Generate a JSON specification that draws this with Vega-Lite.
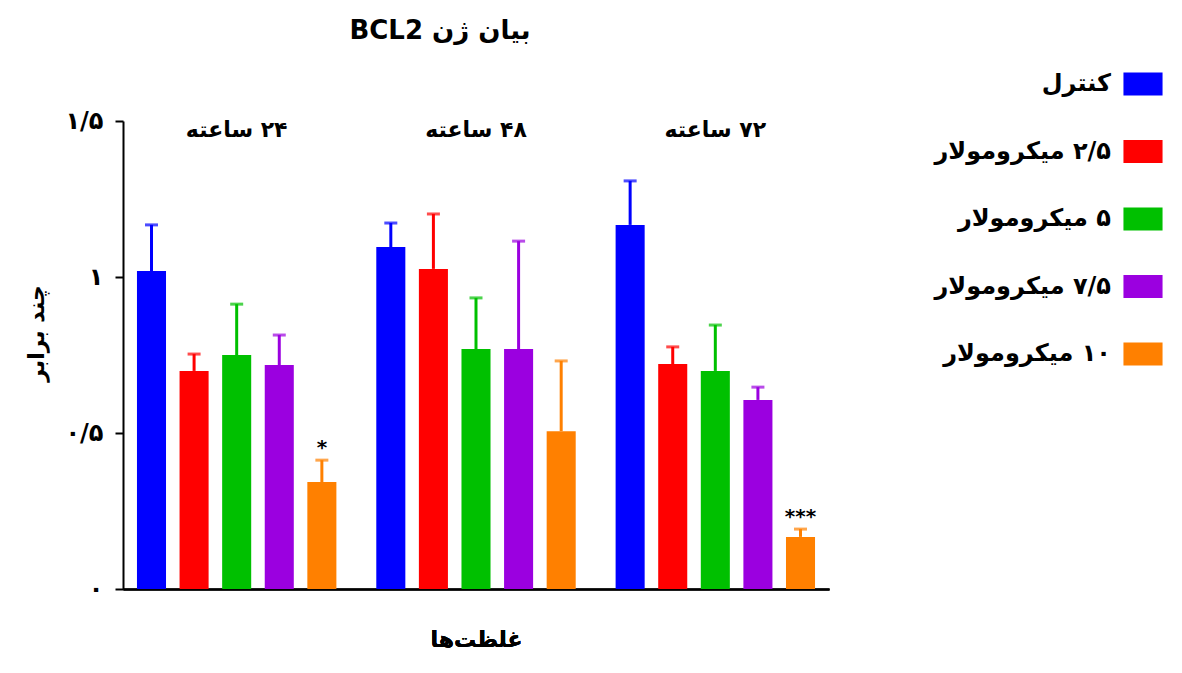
{
  "$schema": "https://vega.github.io/schema/vega-lite/v6.json",
  "width": 706,
  "height": 468,
  "autosize": {"type": "none"},
  "padding": {"left": 123, "top": 121, "right": 353, "bottom": 84},
  "background": "white",
  "title": {
    "text": "BCL2 بیان ژن",
    "font": "DejaVu Sans",
    "fontSize": 26,
    "fontWeight": "bold",
    "color": "black",
    "anchor": "middle",
    "frame": "group",
    "baseline": "middle",
    "offset": 15,
    "dx": -36
  },
  "config": {
    "view": {"stroke": null},
    "font": "DejaVu Sans",
    "axis": {"grid": false}
  },
  "data": {
    "values": [
      {"group": "۲۴ ساعته", "conc": "کنترل", "value": 1.019, "err": 1.167, "sig": ""},
      {"group": "۲۴ ساعته", "conc": "۲/۵ میکرومولار", "value": 0.699, "err": 0.753, "sig": ""},
      {"group": "۲۴ ساعته", "conc": "۵ میکرومولار", "value": 0.75, "err": 0.913, "sig": ""},
      {"group": "۲۴ ساعته", "conc": "۷/۵ میکرومولار", "value": 0.718, "err": 0.814, "sig": ""},
      {"group": "۲۴ ساعته", "conc": "۱۰ میکرومولار", "value": 0.343, "err": 0.413, "sig": "*"},
      {"group": "۴۸ ساعته", "conc": "کنترل", "value": 1.096, "err": 1.173, "sig": ""},
      {"group": "۴۸ ساعته", "conc": "۲/۵ میکرومولار", "value": 1.026, "err": 1.202, "sig": ""},
      {"group": "۴۸ ساعته", "conc": "۵ میکرومولار", "value": 0.769, "err": 0.933, "sig": ""},
      {"group": "۴۸ ساعته", "conc": "۷/۵ میکرومولار", "value": 0.769, "err": 1.115, "sig": ""},
      {"group": "۴۸ ساعته", "conc": "۱۰ میکرومولار", "value": 0.506, "err": 0.731, "sig": ""},
      {"group": "۷۲ ساعته", "conc": "کنترل", "value": 1.167, "err": 1.308, "sig": ""},
      {"group": "۷۲ ساعته", "conc": "۲/۵ میکرومولار", "value": 0.721, "err": 0.776, "sig": ""},
      {"group": "۷۲ ساعته", "conc": "۵ میکرومولار", "value": 0.699, "err": 0.846, "sig": ""},
      {"group": "۷۲ ساعته", "conc": "۷/۵ میکرومولار", "value": 0.606, "err": 0.647, "sig": ""},
      {"group": "۷۲ ساعته", "conc": "۱۰ میکرومولار", "value": 0.167, "err": 0.192, "sig": "***"}
    ]
  },
  "encoding": {
    "x": {
      "field": "group",
      "type": "nominal",
      "sort": null,
      "scale": {"paddingInner": 0.15, "paddingOuter": 0.05},
      "axis": {
        "orient": "bottom",
        "labels": false,
        "ticks": false,
        "domain": true,
        "domainColor": "black",
        "domainWidth": 2,
        "title": "غلظت‌ها",
        "titleFont": "DejaVu Sans",
        "titleFontSize": 22,
        "titleFontWeight": "bold",
        "titleColor": "black",
        "titlePadding": 40
      }
    },
    "xOffset": {
      "field": "conc",
      "type": "nominal",
      "sort": null,
      "scale": {"paddingInner": 0.318, "paddingOuter": 0.047}
    },
    "color": {
      "field": "conc",
      "type": "nominal",
      "sort": null,
      "scale": {
        "domain": ["کنترل", "۲/۵ میکرومولار", "۵ میکرومولار", "۷/۵ میکرومولار", "۱۰ میکرومولار"],
        "range": ["#0000FF", "#FF0000", "#00C000", "#9B00E0", "#FF8000"]
      },
      "legend": {
        "orient": "none",
        "legendX": 814,
        "legendY": -49,
        "title": null,
        "padding": 0,
        "symbolType": "M-1.7,-1H1.7V1H-1.7Z",
        "symbolSize": 529,
        "symbolStrokeWidth": 0,
        "symbolOpacity": 1,
        "labelAlign": "right",
        "labelOffset": -44,
        "symbolOffset": 194,
        "labelFont": "DejaVu Sans",
        "labelFontSize": 24,
        "labelFontWeight": "bold",
        "labelColor": "black",
        "labelLimit": 0,
        "rowPadding": 43.5,
        "labelExpr": "indexof(datum.label, ' ') > 0 ? substring(datum.label, indexof(datum.label, ' ') + 1) + '\u200e ' + substring(datum.label, 0, indexof(datum.label, ' ')) : datum.label"
      }
    }
  },
  "layer": [
    {
      "mark": {"type": "bar"},
      "encoding": {
        "y": {
          "field": "value",
          "type": "quantitative",
          "scale": {"domain": [0, 1.5], "nice": false},
          "axis": {
            "values": [0, 0.5, 1, 1.5],
            "labelExpr": "datum.value == 1.5 ? '۱/۵' : datum.value == 1 ? '۱' : datum.value == 0.5 ? '۰/۵' : '۰'",
            "labelFont": "DejaVu Sans",
            "labelFontSize": 24,
            "labelFontWeight": "bold",
            "labelColor": "black",
            "labelPadding": 12,
            "tickColor": "black",
            "tickWidth": 2,
            "tickSize": 8,
            "domainColor": "black",
            "domainWidth": 2,
            "title": "چند برابر",
            "titleFont": "DejaVu Sans",
            "titleFontSize": 22,
            "titleFontWeight": "bold",
            "titleColor": "black",
            "titlePadding": 16,
            "titleY": 212
          }
        }
      }
    },
    {
      "mark": {"type": "rule", "strokeWidth": 3},
      "encoding": {
        "x": {
          "field": "group",
          "type": "nominal",
          "sort": null,
          "axis": {
            "orient": "top",
            "title": null,
            "domain": false,
            "ticks": false,
            "tickSize": 0,
            "labelPadding": -8,
            "labelBaseline": "middle",
            "labelOverlap": false,
            "labelFont": "DejaVu Sans",
            "labelFontSize": 22,
            "labelFontWeight": "bold",
            "labelColor": "black",
            "labelAngle": 0,
            "labelExpr": "substring(datum.label, indexof(datum.label, ' ') + 1) + '\u200e ' + substring(datum.label, 0, indexof(datum.label, ' '))"
          }
        },
        "y": {"field": "value", "type": "quantitative"},
        "y2": {"field": "err"}
      }
    },
    {
      "mark": {"type": "tick", "thickness": 3, "size": 13},
      "encoding": {
        "y": {"field": "err", "type": "quantitative"}
      }
    },
    {
      "transform": [{"filter": "datum.sig != ''"}],
      "mark": {"type": "text", "font": "DejaVu Sans", "fontSize": 20, "fontWeight": "bold", "baseline": "bottom", "dy": -2, "color": "black"},
      "encoding": {
        "y": {"field": "err", "type": "quantitative"},
        "text": {"field": "sig"},
        "color": {"value": "black"}
      }
    }
  ]
}
